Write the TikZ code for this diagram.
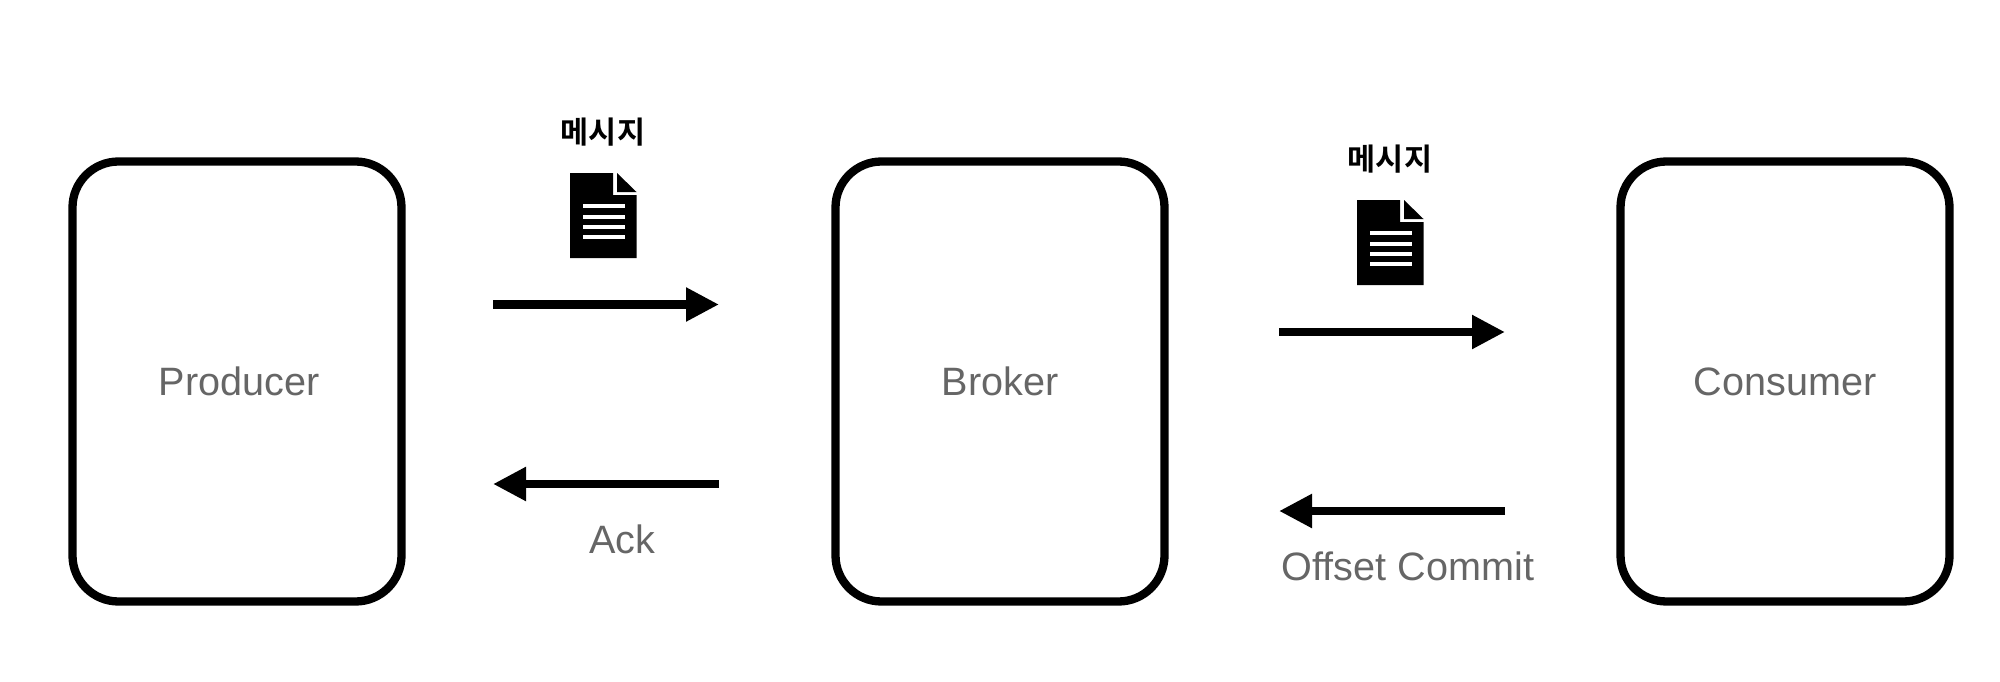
\documentclass[tikz,border=0pt]{standalone}
\usepackage{fontspec}
\setmainfont{Liberation Sans}
\newfontfamily\krfont{Noto Sans CJK KR}[BoldFont={* Bold}]
\usetikzlibrary{arrows.meta}
\definecolor{labelgray}{HTML}{666666}
\tikzset{
  x=1pt,y=-1pt,
  proc/.style={draw=black,line width=8.3pt,rounded corners=46pt,minimum width=329pt,minimum height=440pt,inner sep=0pt,outer sep=0pt,fill=white},
  lbl/.style={text=labelgray,font=\fontsize{39.6}{44}\selectfont,anchor=base,inner sep=0pt},
  msg/.style={text=black,font=\krfont\bfseries\fontsize{30.5}{34}\selectfont,inner sep=0pt},
  flow/.style={line width=8.3pt,draw=black,-{Triangle[length=33pt,width=32pt]}},
  docline/.style={draw=white,line width=4pt}
}
\newcommand{\docicon}[2]{%
  \begin{scope}[shift={(#1,#2)}]
    \fill[black] (0,0) -- (43,0) -- (43,22) -- (66.5,22) -- (66.5,85) -- (0,85) -- cycle;
    \fill[black] (47,0) -- (66.5,19) -- (47,19) -- cycle;
    \foreach \yy in {32.7,43.7,54.3,64.3}{\draw[docline] (13,\yy) -- (55,\yy);}
  \end{scope}}
\begin{document}
\begin{tikzpicture}
\useasboundingbox (0,0) rectangle (2000,682);
\node[proc] (producer) at (237,381.5) {};
\node[proc] (broker) at (1000,381.5) {};
\node[proc] (consumer) at (1785,381.5) {};
\node[lbl] (plabel) at (239,395) {Producer};
\node[lbl] (blabel) at (1000,395) {Broker};
\node[lbl] (clabel) at (1785,395) {Consumer};
\coordinate (a1s) at (493,304.5); \coordinate (a1e) at (719,304.5);
\coordinate (a2s) at (719,484); \coordinate (a2e) at (493,484);
\coordinate (a3s) at (1279,332); \coordinate (a3e) at (1505,332);
\coordinate (a4s) at (1505,511); \coordinate (a4e) at (1279,511);
\draw[flow] (a1s) -- (a1e);
\draw[flow] (a2s) -- (a2e);
\draw[flow] (a3s) -- (a3e);
\draw[flow] (a4s) -- (a4e);
\node[msg] (m1) at (603,132) {메시지};
\node[msg] (m2) at (1390,159) {메시지};
\docicon{570}{173}
\docicon{1357}{200}
\node[lbl] (ack) at (622,553) {Ack};
\node[lbl] (offset) at (1408,580) {Offset Commit};
\end{tikzpicture}
\end{document}
